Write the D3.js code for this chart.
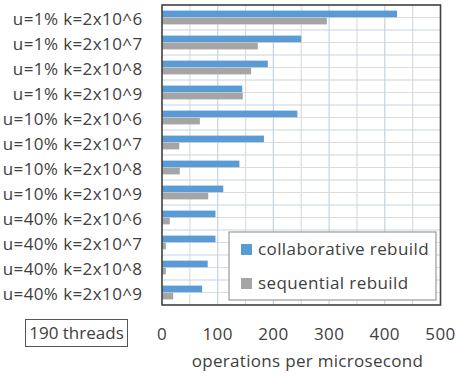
<!DOCTYPE html>
<html>
<head>
<meta charset="utf-8">
<script src="https://cdn.jsdelivr.net/npm/d3@7"></script>
<style>
  html, body { margin: 0; padding: 0; background: #fff; }
  svg { display: block; }
  text { font-family: "Open Sans", Lato, sans-serif; fill: #404040; letter-spacing: 0.4px; }
</style>
</head>
<body>
<svg id="chart" width="456" height="376"></svg>
<script>
// Workload configurations (update ratio u, key range k)
const categories = [
  "u=1% k=2x10^6", "u=1% k=2x10^7", "u=1% k=2x10^8", "u=1% k=2x10^9",
  "u=10% k=2x10^6", "u=10% k=2x10^7", "u=10% k=2x10^8", "u=10% k=2x10^9",
  "u=40% k=2x10^6", "u=40% k=2x10^7", "u=40% k=2x10^8", "u=40% k=2x10^9"
];
// Throughput, operations per microsecond
const collaborative = [422, 250, 190, 144, 243, 183, 139, 110, 96, 96, 82, 72];
const sequential    = [296, 172, 160, 145, 68, 31, 32, 83, 14, 7, 7, 20];
const seriesNames = ["collaborative rebuild", "sequential rebuild"];
const seriesColors = ["#5B9BD5", "#A5A5A5"];
const xTicks = [0, 100, 200, 300, 400, 500];
const xMinorTicks = [50, 150, 250, 350, 450];
const threadsLabel = "190 threads";
const axisTitle = "operations per microsecond";

const svg = d3.select("#chart");
const m = { left: 162, right: 440.5, top: 5, bottom: 305 };
const fs = 17;

const x = d3.scaleLinear().domain([0, 500]).range([m.left, m.right]);
const y = d3.scaleBand().domain(categories).range([m.top, m.bottom]);
const ySub = d3.scaleBand().domain(seriesNames).range([0, y.bandwidth()])
  .paddingInner(0.08).paddingOuter(0.78);

const g = svg.append("g");

// Minor grid: mid-band horizontals and half-hundred verticals
g.selectAll(".hminor").data(categories).join("line")
  .attr("x1", m.left).attr("x2", m.right)
  .attr("y1", d => y(d) + y.bandwidth() / 2).attr("y2", d => y(d) + y.bandwidth() / 2)
  .attr("stroke", "#dcdcdc").attr("stroke-width", 1.2);
g.selectAll(".vminor").data(xMinorTicks).join("line")
  .attr("x1", d => x(d)).attr("x2", d => x(d))
  .attr("y1", m.top).attr("y2", m.bottom)
  .attr("stroke", "#dcdcdc").attr("stroke-width", 1.2);
// Major grid: band boundaries and hundreds
g.selectAll(".hmajor").data(categories.slice(1)).join("line")
  .attr("x1", m.left).attr("x2", m.right)
  .attr("y1", d => y(d)).attr("y2", d => y(d))
  .attr("stroke", "#c5d3e3").attr("stroke-width", 1.2);
g.selectAll(".vmajor").data(xTicks.slice(1, -1)).join("line")
  .attr("x1", d => x(d)).attr("x2", d => x(d))
  .attr("y1", m.top).attr("y2", m.bottom)
  .attr("stroke", "#c5d3e3").attr("stroke-width", 1.2);

// Bars
const rows = categories.map((c, i) => ({ c, vals: [collaborative[i], sequential[i]] }));
const grp = g.selectAll(".row").data(rows).join("g")
  .attr("transform", d => `translate(0,${y(d.c)})`);
grp.selectAll("rect").data(d => d.vals.map((v, j) => ({ v, s: seriesNames[j], col: seriesColors[j] })))
  .join("rect")
  .attr("x", x(0))
  .attr("y", d => ySub(d.s))
  .attr("width", d => x(d.v) - x(0))
  .attr("height", ySub.bandwidth())
  .attr("fill", d => d.col);

// Plot frame
g.append("rect")
  .attr("x", m.left).attr("y", m.top)
  .attr("width", m.right - m.left).attr("height", m.bottom - m.top)
  .attr("fill", "none").attr("stroke", "#404040").attr("stroke-width", 1.6);

// Category labels
g.selectAll(".cat").data(categories).join("text")
  .attr("x", 142.5)
  .attr("y", d => y(d) + y.bandwidth() / 2 + 7.5)
  .attr("text-anchor", "end")
  .attr("font-size", fs)
  .text(d => d);

// X tick labels
g.selectAll(".xt").data(xTicks).join("text")
  .attr("x", d => x(d)).attr("y", 339.5)
  .attr("text-anchor", "middle").attr("font-size", fs)
  .text(d => d);

// Axis title
g.append("text").attr("x", 307.5).attr("y", 367)
  .attr("text-anchor", "middle").attr("font-size", fs)
  .style("letter-spacing", "0.3px")
  .text(axisTitle);

// Threads label with box
g.append("rect").attr("x", 25.5).attr("y", 319.5).attr("width", 102).attr("height", 27)
  .attr("fill", "none").attr("stroke", "#555").attr("stroke-width", 1);
g.append("text").attr("x", 76.5).attr("y", 339)
  .attr("text-anchor", "middle").attr("font-size", fs)
  .style("letter-spacing", "0px")
  .text(threadsLabel);

// Legend
const lg = g.append("g");
lg.append("rect").attr("x", 229).attr("y", 232).attr("width", 207).attr("height", 68)
  .attr("fill", "#fff").attr("stroke", "#9a9a9a").attr("stroke-width", 1.2);
seriesNames.forEach((s, i) => {
  lg.append("rect").attr("x", 241).attr("y", 244 + i * 34).attr("width", 11).attr("height", 11)
    .attr("fill", seriesColors[i]);
  lg.append("text").attr("x", 258).attr("y", 255 + i * 34)
    .attr("font-size", fs)
    .text(s);
});
</script>
</body>
</html>
